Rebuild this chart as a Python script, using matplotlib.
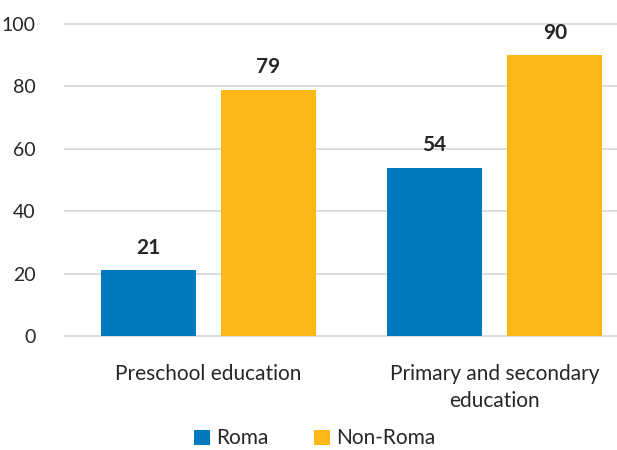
import matplotlib
matplotlib.use("Agg")
import matplotlib.pyplot as plt
import numpy as np

categories = ["Preschool education", "Primary and secondary\neducation"]
series_names = ["Roma", "Non-Roma"]
roma = [21, 54]
non_roma = [79, 90]
yticks = [0, 20, 40, 60, 80, 100]

colors = ["#0079C1", "#FBB817"]
text_color = "#262626"

plt.rcParams['font.family'] = ['Lato', 'DejaVu Sans']

fig = plt.figure(figsize=(6.17, 4.5), dpi=100)
ax = fig.add_axes([65/617, 114/450, (617-65)/617, 312/450])

x = np.arange(len(categories))
w = 0.332
off = 0.21
for vals, name, c, o in [(roma, series_names[0], colors[0], -off), (non_roma, series_names[1], colors[1], off)]:
    bars = ax.bar(x + o, vals, width=w, color=c, label=name, zorder=3)
    for b, v in zip(bars, vals):
        ax.text(b.get_x() + b.get_width()/2, v + 4, str(v), ha='center', va='bottom',
                fontsize=15, fontweight='bold', color=text_color)

ax.set_xlim(-0.5, 1.427)
ax.set_ylim(0, 100)
ax.set_yticks(yticks)
ax.set_yticklabels([str(t) for t in yticks], fontsize=14, color=text_color)
ax.set_xticks(x)
ax.set_xticklabels(categories, fontsize=15, color=text_color, linespacing=1.45, va='top')
ax.tick_params(axis='both', length=0)
ax.tick_params(axis='y', pad=21)
ax.tick_params(axis='x', pad=20)
ax.grid(axis='y', color='#D9D9D9', linewidth=1.3, zorder=0)
for ln in ax.get_ygridlines():
    ln.set_clip_on(False)
for s in ax.spines.values():
    s.set_visible(False)

leg = fig.legend(loc='lower center', bbox_to_anchor=(0.51, -0.022), ncol=2, frameon=False,
                 fontsize=15, handlelength=0.75, handleheight=0.75, handletextpad=0.3,
                 columnspacing=2.2, borderpad=0.05)
for t in leg.get_texts():
    t.set_color(text_color)

fig.savefig("out.png", dpi=100)
